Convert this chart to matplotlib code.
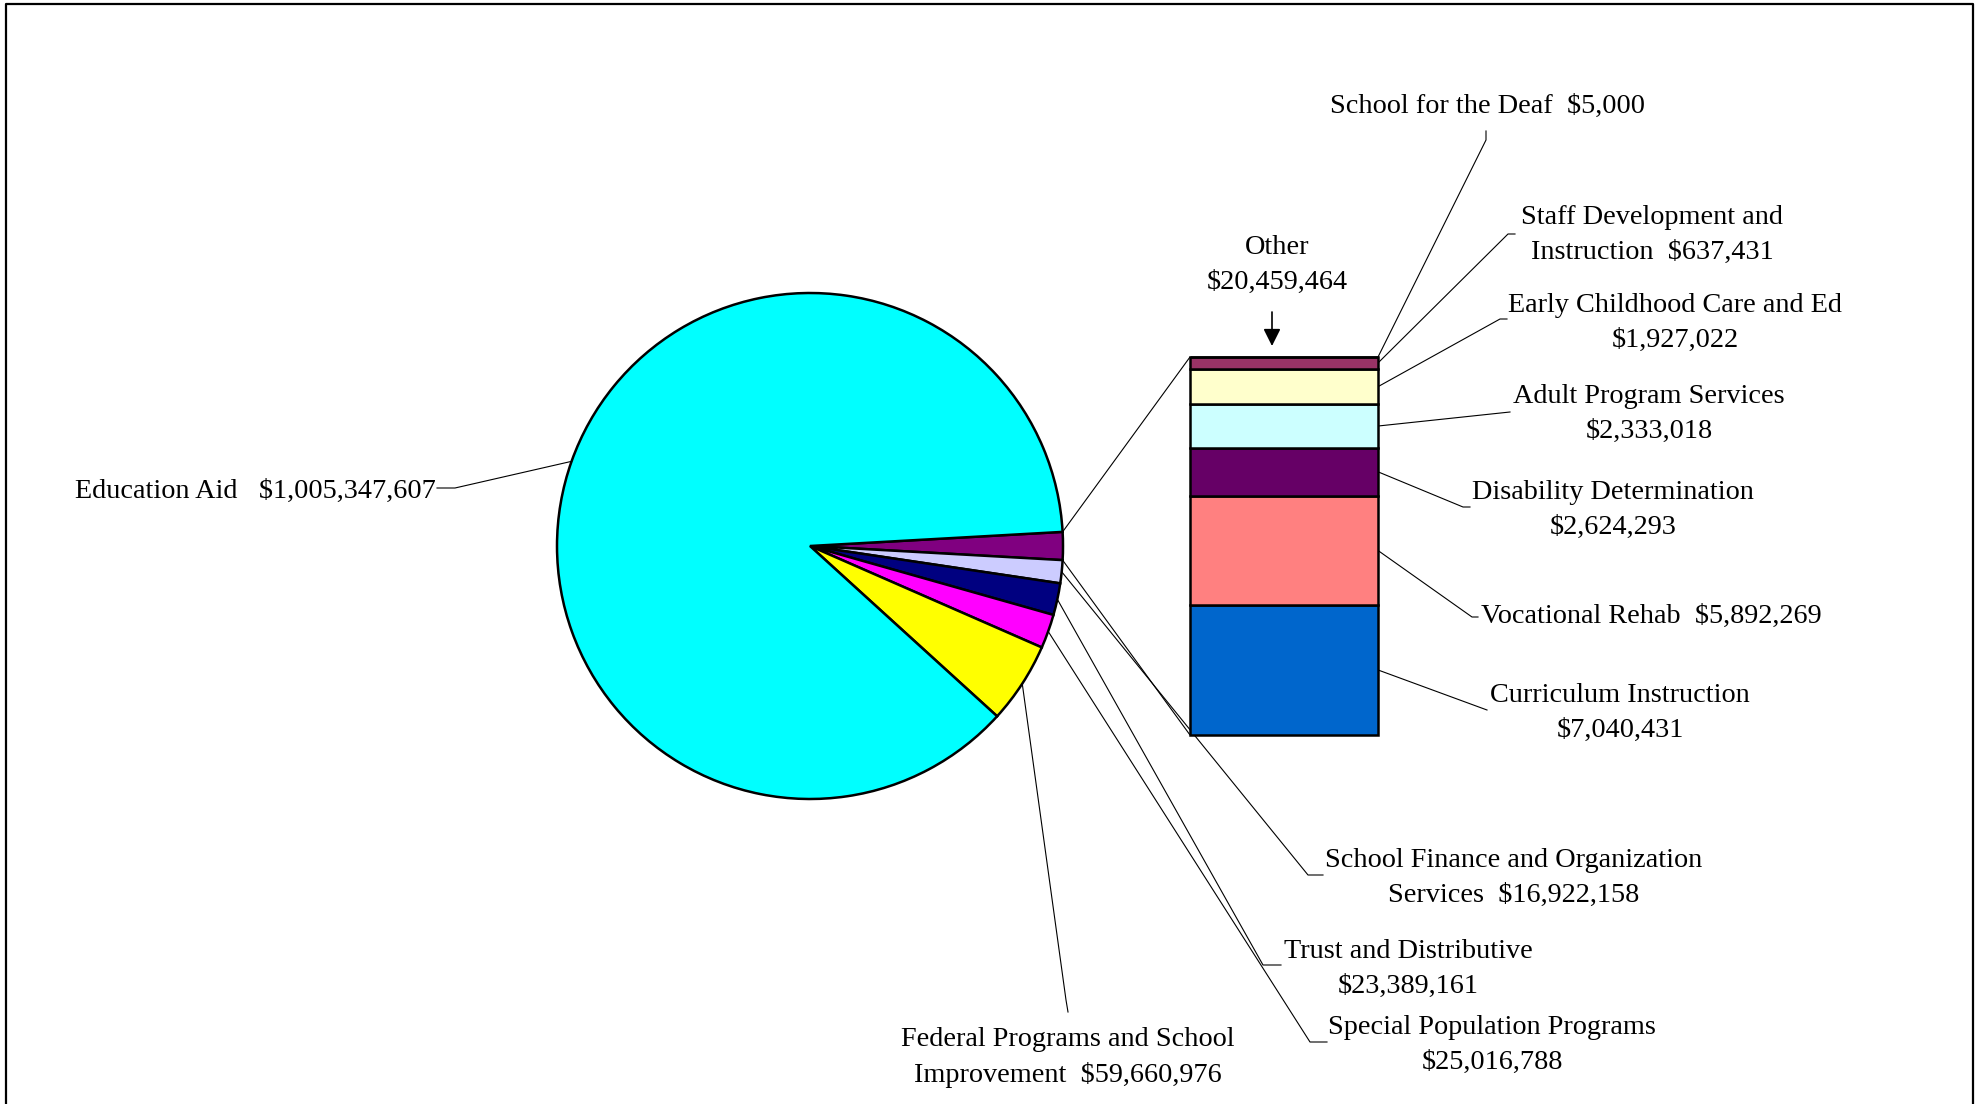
import numpy as np
import matplotlib
matplotlib.use("Agg")
import matplotlib.pyplot as plt

plt.rcParams["font.family"] = ["Liberation Serif", "DejaVu Serif"]

# ---- data -------------------------------------------------------------
# Main pie, clockwise from the "Other" slice
pie_names = ["Other",
             "School Finance and Organization\nServices",
             "Trust and Distributive",
             "Special Population Programs",
             "Federal Programs and School\nImprovement",
             "Education Aid"]
pie_values = [20459464, 16922158, 23389161, 25016788, 59660976, 1005347607]
pie_colors = ["#800080", "#CCCCFF", "#000080", "#FF00FF", "#FFFF00", "#00FFFF"]
pie_seps = ["\n", "  ", "\n", "\n", "  ", "   "]

# Breakdown of "Other", stacked from the bottom up
bar_names = ["Curriculum Instruction",
             "Vocational Rehab",
             "Disability Determination",
             "Adult Program Services",
             "Early Childhood Care and Ed",
             "Staff Development and\nInstruction",
             "School for the Deaf"]
bar_values = [7040431, 5892269, 2624293, 2333018, 1927022, 637431, 5000]
bar_colors = ["#0066CC", "#FF8080", "#660066", "#CCFFFF", "#FFFFCC", "#993366", "#FF99CC"]
bar_seps = ["\n", "  ", "\n", "\n", "\n", "  ", "  "]


def money(v):
    return "${:,}".format(v)


# ---- canvas (pixel-based coordinates, y measured from the top) --------
W, H = 1980, 1104
fig = plt.figure(figsize=(W / 100, H / 100), dpi=100)
ax = fig.add_axes([0, 0, 1, 1])


def P(x, y):
    return (x, H - y)


FS = 20.3
LS = 1.5
LW_LEAD = 0.8

# ---- pie ---------------------------------------------------------------
cx, cy, R = 810, 546, 253
total = sum(pie_values)
start = pie_values[0] / total * 360 / 2
ax.pie(pie_values, colors=pie_colors, startangle=start, counterclock=False,
       radius=R, center=P(cx, cy),
       wedgeprops=dict(edgecolor="black", linewidth=1.8))
ax.set_xlim(0, W)
ax.set_ylim(0, H)
ax.set_aspect("equal")
ax.axis("off")


def pie_point(angle_deg):
    a = np.deg2rad(angle_deg)
    return (cx + R * np.cos(a), H - cy + R * np.sin(a))


cum = np.concatenate([[0], np.cumsum(pie_values)])
mid_angles = [start - (cum[i] + pie_values[i] / 2) / total * 360 for i in range(len(pie_values))]

# ---- stacked bar for "Other" ------------------------------------------
bx0, bx1, by0, by1 = 1190, 1378, 357, 735
axb = fig.add_axes([bx0 / W, (H - by1) / H, (bx1 - bx0) / W, (by1 - by0) / H])
bottoms = np.concatenate([[0], np.cumsum(bar_values)[:-1]])
axb.bar([0] * len(bar_values), bar_values, bottom=bottoms, width=1.0,
        color=bar_colors, edgecolor="black", linewidth=1.8, clip_on=False)
axb.set_xlim(-0.5, 0.5)
axb.set_ylim(0, sum(bar_values))
axb.axis("off")


def bar_point(xv, yv):
    d = axb.transData.transform((xv, yv))
    return tuple(ax.transData.inverted().transform(d))


# Connectors between the "Other" slice and the bar
p_top = pie_point(start)
p_bot = pie_point(start - pie_values[0] / total * 360)
for p, q in [(p_top, bar_point(-0.5, sum(bar_values))), (p_bot, bar_point(-0.5, 0))]:
    ax.plot([p[0], q[0]], [p[1], q[1]], color="black", lw=LW_LEAD, solid_capstyle="butt")

# ---- pie labels ----------------------------------------------------------
pie_label_pos = [None, (1514, 878), (1408, 969), (1492, 1045), (1068, 1058), None]
pie_leader = [None,
              [(1308, 875), (1323, 875)],
              [(1263, 965), (1281, 965)],
              [(1310, 1042), (1327, 1042)],
              [(1066, 1000), (1068, 1012)],
              [(455, 488), (437, 488)]]

for i in range(1, len(pie_values)):
    a = pie_point(mid_angles[i])
    pts = [a] + [P(*q) for q in pie_leader[i]]
    xs, ys = zip(*pts)
    ax.plot(xs, ys, color="black", lw=LW_LEAD)
    txt = pie_names[i] + pie_seps[i] + money(pie_values[i])
    if pie_label_pos[i] is None:
        ax.text(*P(436, 491), txt, ha="right", va="center", fontsize=FS)
    else:
        ax.text(*P(*pie_label_pos[i]), txt, ha="center", va="center",
                multialignment="center", fontsize=FS, linespacing=LS)

# "Other" heading with arrow
ax.text(*P(1277, 265), pie_names[0] + pie_seps[0] + money(pie_values[0]),
        ha="center", va="center", multialignment="center", fontsize=FS, linespacing=LS)
ax.annotate("", xy=P(1272, 346), xytext=P(1272, 312),
            arrowprops=dict(arrowstyle="-|>", color="black", lw=1.2, mutation_scale=26,
                            shrinkA=0, shrinkB=0))

# ---- bar labels ----------------------------------------------------------
bar_label_pos = [(1620, 713), (1651, 616), (1613, 510), (1649, 414),
                 (1675, 323), (1652, 235), (1487, 106)]
bar_leader = [[(1487, 710)],
              [(1472, 617), (1478, 617)],
              [(1463, 507), (1470, 507)],
              [(1510, 412)],
              [(1500, 319), (1507, 319)],
              [(1508, 234), (1515, 234)],
              [(1486, 140), (1486, 131)]]

for i, v in enumerate(bar_values):
    a = bar_point(0.5, bottoms[i] + v / 2)
    pts = [a] + [P(*q) for q in bar_leader[i]]
    xs, ys = zip(*pts)
    ax.plot(xs, ys, color="black", lw=LW_LEAD)
    ax.text(*P(*bar_label_pos[i]), bar_names[i] + bar_seps[i] + money(v),
            ha="center", va="center", multialignment="center", fontsize=FS, linespacing=LS)

# ---- outer frame -----------------------------------------------------------
ax.plot([6, 6, 1973, 1973], [0, H - 4, H - 4, 0], color="black", lw=1.6, clip_on=False)

fig.savefig("out.png", dpi=100)
